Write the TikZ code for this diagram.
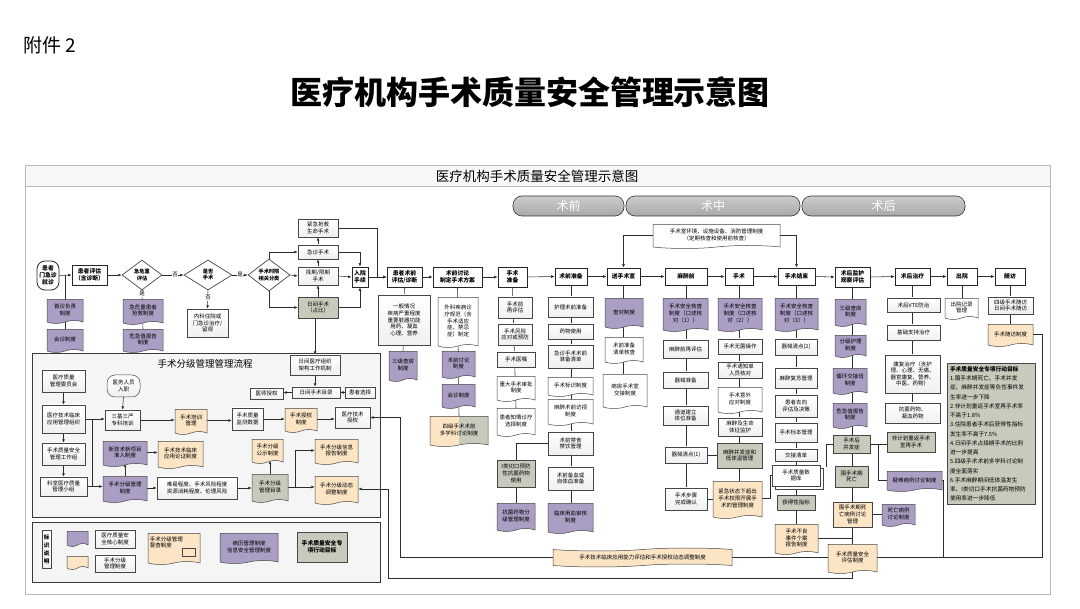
\documentclass[tikz,border=0pt]{standalone}
\usepackage{fontspec}
\setmainfont{Noto Sans CJK SC}
\usetikzlibrary{shapes.geometric,shapes.symbols,arrows.meta,calc,shadows}
\pgfdeclarelayer{back}\pgfdeclarelayer{lines}
\pgfsetlayers{back,lines,main}
\definecolor{lav}{RGB}{170,158,196}
\definecolor{cream}{RGB}{251,229,197}
\definecolor{ggreen}{RGB}{200,202,188}
\newcommand\fs{\fontsize{5.5}{6.6}\selectfont}
\newcommand\fsb{\fontsize{5.8}{6.9}\selectfont\bfseries}
\newcommand\fsd{\fontsize{5.2}{6.2}\selectfont\bfseries}
\newcommand\bx[7]{\node[#2,minimum width={(#5-#3)*1pt},minimum height={(#6-#4)*1pt}] (#1) at ({(#3+#5)/2},{(#4+#6)/2}) {#7};}
\tikzset{
 base/.style={draw=gray!55!black, line width=0.5pt, inner sep=0.5pt, align=center, font=\fs, text=black},
 wbox/.style={base, rectangle, top color=white, bottom color=gray!12},
 hbox/.style={base, rectangle, fill=white, font=\fsb, line width=0.8pt, draw=gray!30!black},
 gbox/.style={base, rectangle, fill=ggreen},
 obox/.style={base, rectangle, fill=cream},
 docw/.style={base, tape, tape bend top=none, tape bend height=3pt, fill=white},
 docp/.style={docw, fill=lav},
 doco/.style={docw, fill=cream},
 docg/.style={docw, fill=ggreen},
 dia/.style={base, diamond, fill=white, font=\fsd, inner sep=0pt, line width=0.7pt},
 lbl/.style={font=\fs, fill=white, inner sep=0.6pt},
 ln/.style={draw=gray!35!black, line width=0.55pt},
 arr/.style={ln, -{Latex[length=3.4pt,width=2.8pt]}},
 pill/.style={draw=gray!40!black, line width=0.6pt, rounded corners=9pt, top color=gray!40, bottom color=gray!68},
 frame/.style={draw=gray!45!black, line width=0.8pt, fill=gray!8},
}
\begin{document}
\begin{tikzpicture}[x=1pt,y=-1pt]
\useasboundingbox (0,0) rectangle (1080,609);

\node[anchor=west,font=\fontsize{19}{22}\selectfont] (fj) at (20,45) {附件 2};
\node[font=\fontsize{32}{36}\selectfont\bfseries] (ttl) at (530,92) {医疗机构手术质量安全管理示意图};

\begin{pgfonlayer}{back}
\draw[draw=gray!55, line width=0.8pt, fill=white] (25,165) rectangle (1050,594);
\draw[draw=gray!55, line width=0.8pt, fill=gray!6] (25,165) rectangle (1050,186);
\draw[frame] (32,353) rectangle (380,517);
\draw[frame] (32,522) rectangle (380,582);
\end{pgfonlayer}
\node[font=\fontsize{13.5}{15}\selectfont] (hdr) at (537,176) {医疗机构手术质量安全管理示意图};

% phase pills
\node[pill, minimum width=111pt, minimum height=20pt, text=white, font=\fontsize{12}{14}\selectfont] (ph1) at (568.5,206) {术前};
\node[pill, minimum width=174pt, minimum height=20pt, text=white, font=\fontsize{12}{14}\selectfont] (ph2) at (713,206) {术中};
\node[pill, minimum width=163pt, minimum height=20pt, text=white, font=\fontsize{12}{14}\selectfont] (ph3) at (883.5,206) {术后};

% ===== main row, left part
\bx{door}{hbox,rounded corners=8pt}{37}{261}{59}{290}{患者\\门急诊\\就诊}
\bx{assess}{hbox}{72}{265}{107}{285}{患者评估\\（含诊断）}
\node[dia, minimum width=40pt, minimum height=30pt] (d1) at (142,275) {急危重\\评估};
\node[dia, minimum width=48pt, minimum height=30pt] (d2) at (208,275) {是否\\手术};
\node[dia, minimum width=42pt, minimum height=32pt] (d3) at (269,275) {手术时限\\相关分类};
\bx{shouzhen}{docp}{47}{298}{83}{322}{首诊负责\\制度}
\bx{huizhen}{docp}{47}{328}{83}{351}{会诊制度}
\bx{jiwei}{docp}{123}{298}{163}{323}{急危重患者\\抢救制度}
\bx{weiji}{docp}{123}{328}{163}{351}{危急值报告\\制度}
\bx{neike}{wbox}{187}{309}{228}{337}{内科住院或\\门急诊治疗/\\留观}

\bx{jinji}{wbox}{298}{219}{338}{237}{紧急抢救\\生命手术}
\bx{jizhen}{wbox}{298}{245}{338}{259}{急诊手术}
\bx{zeqi}{wbox}{298}{267}{338}{285}{择期/限期\\手术}
\bx{rijian}{gbox}{298}{297}{338}{318}{日间手术\\（占比）}
\bx{ruyuan}{hbox}{352}{267}{368}{287}{入院\\手续}
\bx{pre}{hbox}{387}{267}{422}{287}{患者术前\\评估/诊断}
\bx{pretext}{wbox}{378}{295}{430}{345}{一般情况\\疾病严重程度\\重要脏器功能\\用药、凝血\\心理、营养}
\bx{sanji1}{docp}{389}{350}{417}{380}{三级查房\\制度}

\bx{taolun}{hbox}{433}{267}{482}{287}{术前讨论\\制定手术方案}
\bx{waike}{docw}{438}{296}{478}{346}{外科疾病诊\\疗规范（含\\手术适应\\症、禁忌\\症）制定}
\bx{taolunzd}{docp}{442}{350}{475}{377}{术前讨论\\制度}
\bx{huizhen2}{docp}{442}{383}{475}{407}{会诊制度}
\bx{siji}{doco,path picture={\fill[ggreen] (path picture bounding box.north) rectangle (path picture bounding box.south east);}}{430}{415}{488}{445}{四级手术术前\\多学科讨论制度}

\bx{zhunbei}{hbox}{498}{267}{527}{287}{手术\\准备}
\bx{zaipg}{wbox}{498}{297}{532}{318}{手术前\\再评估}
\bx{fengxian}{wbox}{498}{324}{532}{345}{手术风险\\应对或预防}
\bx{yizhu}{wbox}{497}{352}{535}{367}{手术医嘱}
\bx{zhongda}{docw}{497}{375}{535}{400}{重大手术审批\\制度}
\bx{zhiqing}{docw}{497}{407}{535}{435}{患者知情诊疗\\选择制度}
\bx{iclass}{gbox}{497}{460}{535}{487}{I类切口预防\\性抗菌药物\\使用}
\bx{kangjun}{docp}{497}{502}{535}{530}{抗菌药物分\\级管理制度}

\bx{shuqianzb}{hbox}{555}{268}{587}{285}{术前准备}
\bx{huli}{wbox}{548}{297}{593}{317}{护理术前准备}
\bx{yaowu}{wbox}{548}{324}{593}{339}{药物使用}
\bx{jzqd}{wbox}{548}{345}{593}{368}{急诊手术术前\\准备清单}
\bx{biaoshi}{docw}{548}{376}{593}{395}{手术标识制度}
\bx{fangshi}{docw}{548}{398}{593}{424}{麻醉术前访视\\制度}
\bx{jinshi}{wbox}{548}{432}{593}{455}{术前禁食\\禁饮管理}
\bx{beixue}{wbox}{548}{467}{593}{490}{术前备血或\\自体血准备}
\bx{yongxue}{docp}{548}{502}{593}{532}{临床用血审核\\制度}

\bx{song}{hbox}{607}{268}{640}{285}{送手术室}
\bx{chadui}{docp}{605}{297}{643}{327}{查对制度}
\bx{qdhc}{docw}{605}{336}{643}{362}{术前准备\\清单核查}
\bx{jiaojie}{docw}{603}{373}{647}{407}{病房手术室\\交接制度}

\bx{banner1}{docw}{653}{223}{780}{247}{手术室环境、设施设备、消防管理制度\\（定期核查和使用前核查）}

\bx{mazuiq}{hbox}{665}{268}{707}{285}{麻醉前}
\bx{hc1}{docp}{663}{297}{708}{330}{手术安全核查\\制度（口述核\\对（1））}
\bx{mzzpg}{wbox}{663}{340}{708}{358}{麻醉前再评估}
\bx{qxzb}{wbox}{663}{372}{708}{388}{器械准备}
\bx{tongdao}{wbox}{663}{406}{708}{425}{通道建立\\体位准备}
\bx{qxqd1}{wbox}{665}{447}{707}{463}{器械清点(1)}
\bx{buzhou}{wbox}{665}{488}{707}{510}{手术步骤\\完成确认}

\bx{shoushu}{hbox}{725}{268}{753}{285}{手术}
\bx{hc2}{docp}{718}{297}{762}{330}{手术安全核查\\制度（口述核\\对（2））}
\bx{wujun}{wbox}{718}{339}{762}{354}{手术无菌操作}
\bx{tongzhi}{wbox}{718}{362}{762}{378}{手术通知单\\人员核对}
\bx{yiwai}{docw}{718}{386}{762}{412}{手术意外\\应对制度}
\bx{jianhu}{wbox}{718}{418}{762}{436}{麻醉及生命\\体征监护}
\bx{bingfa}{gbox}{717}{443}{762}{468}{麻醉并发症和\\低体温管理}
\bx{jinjizt}{doco}{713}{480}{762}{517}{紧急状态下超出\\手术权限开展手\\术的管理制度}

\bx{jieshu}{hbox}{778}{268}{815}{285}{手术结束}
\bx{hc3}{docp}{775}{297}{818}{330}{手术安全核查\\制度（口述核\\对（3））}
\bx{qxqd2}{wbox}{775}{339}{817}{355}{器械清点(2)}
\bx{fusu}{wbox}{775}{368}{817}{388}{麻醉复苏管理}
\bx{quxiang}{wbox}{775}{395}{817}{417}{患者去向\\评估及决策}
\bx{biaoben}{wbox}{775}{423}{817}{442}{手术标本管理}
\bx{qingdan}{wbox}{775}{449}{817}{461}{交接清单}
\bx{shujuku}{base,rectangle,fill=white,copy shadow={shadow xshift=3pt,shadow yshift=-3pt}}{772}{465}{820}{486}{手术质量数\\据库}
\bx{huode}{gbox}{777}{495}{815}{510}{获得性指标}
\bx{buliang}{doco}{775}{523}{818}{553}{手术不良\\事件个案\\报告制度}

\bx{jianhu2}{hbox}{835}{267}{870}{287}{术后监护\\观察评估}
\bx{sanji2}{docp}{835}{298}{866}{325}{三级查房\\制度}
\bx{fenji}{docp}{835}{334}{866}{356}{分级护理\\制度}
\bx{xunhuan}{docp}{833}{367}{867}{393}{循环交接班\\制度}
\bx{weiji2}{docp}{833}{402}{867}{427}{危急值报告\\制度}
\bx{bingfz}{gbox}{833}{435}{870}{453}{手术后\\并发症}
\bx{siwang}{gbox}{835}{466}{868}{487}{围手术期\\死亡}
\bx{swtl}{obox}{833}{502}{872}{527}{围手术期死\\亡病例讨论\\管理}
\bx{swzd}{docp}{882}{503}{915}{525}{死亡病例\\讨论制度}
\bx{pinggu}{doco}{828}{543}{877}{572}{手术质量安全\\评估制度}
\bx{feiji}{gbox}{887}{432}{935}{452}{非计划重返手术\\室再手术}
\bx{yinan}{docp}{887}{470}{942}{490}{疑难病例讨论制度}

\bx{zhiliao}{hbox}{895}{268}{930}{285}{术后治疗}
\bx{vte}{wbox}{887}{298}{940}{312}{术后VTE防治}
\bx{jichu}{wbox}{887}{325}{940}{340}{基础支持治疗}
\bx{kangfu}{wbox}{885}{355}{940}{393}{康复治疗（含护\\理、心理、无痛、\\器官康复、营养、\\中医、药物）}
\bx{kjyw}{wbox}{885}{403}{940}{423}{抗菌药物、\\凝血药物}
\bx{chuyuan}{hbox}{947}{268}{977}{285}{出院}
\bx{cyjl}{docw}{945}{297}{978}{318}{出院记录\\管理}
\bx{suifang}{hbox}{995}{268}{1025}{285}{随访}
\bx{sfxm}{wbox}{988}{297}{1033}{314}{四级手术随访\\日间手术随访}
\bx{sfzd}{doco}{988}{323}{1033}{345}{手术随访制度}

\bx{goal}{gbox,align=left,text width=82pt,inner sep=3pt,font=\fontsize{5.7}{9.25}\selectfont,line width=0.7pt}{947}{365}{1035}{503}{{\bfseries 手术质量安全专项行动目标}\\1.围手术期死亡、手术并发\\症、麻醉并发症等负性事件发\\生率进一步下降\\2.非计划重返手术室再手术率\\不高于1.8\%\\3.住院患者手术后获得性指标\\发生率不高于7.5\%\\4.日间手术占择期手术的比例\\进一步提高\\5.四级手术术前多学科讨论制\\度全面落实\\6.手术麻醉期间低体温发生\\率、I类切口手术抗菌药物预防\\使用率进一步降低}

\node[base,tape,fill=cream,tape bend height=3pt,minimum width=179pt,minimum height=19pt] (banner2) at (642.5,557.5) {手术技术临床应用能力评估和手术授权动态调整制度};

% ===== grading sub-box
\node[font=\fontsize{9.5}{11}\selectfont] (subttl) at (205,364) {手术分级管理管理流程};
\bx{wyh}{wbox}{42}{370}{85}{392}{医疗质量\\管理委员会}
\bx{zuzhi}{wbox}{42}{405}{85}{433}{医疗技术临床\\应用管理组织}
\bx{gzz}{wbox}{42}{443}{85}{465}{手术质量安全\\管理工作组}
\bx{ksxz}{wbox}{40}{477}{87}{496}{科室医疗质量\\管理小组}
\bx{ruzhi}{wbox,rounded corners=8pt}{107}{375}{140}{397}{医务人员\\入职}
\bx{sanjisy}{wbox}{105}{410}{140}{430}{三基三严\\专科培训}
\bx{peixun}{doco}{175}{408}{207}{433}{手术培训\\管理}
\bx{jiance}{wbox}{232}{408}{263}{430}{手术质量\\监测数据}
\bx{shouquanzd}{doco}{285}{407}{317}{431}{手术授权\\制度}
\bx{yljssq}{wbox}{335}{407}{370}{428}{医疗技术\\授权}
\bx{xinjishu}{docp}{103}{440}{147}{465}{新技术新项目\\准入制度}
\bx{lunzheng}{doco}{158}{440}{203}{467}{手术技术临床\\应用论证制度}
\bx{gongshi}{doco}{252}{438}{283}{462}{手术分级\\公示制度}
\bx{xinxi}{doco}{315}{438}{358}{463}{手术分级信息\\报告制度}
\bx{fjzd}{docp}{103}{475}{147}{501}{手术分级管理\\制度}
\bx{nanyi}{wbox}{157}{477}{237}{499}{难易程度、手术风险程度\\资源消耗程度、伦理风险}
\bx{mulu}{docg}{252}{473}{288}{501}{手术分级\\管理目录}
\bx{dongtai}{doco}{315}{475}{358}{503}{手术分级动态\\调整制度}
\bx{yishi}{wbox}{250}{388}{283}{399}{医师授权}
\bx{rjml}{wbox}{292}{387}{340}{398}{日间手术目录}
\bx{huanzhe}{wbox}{345}{387}{375}{398}{患者选择}
\bx{rjzz}{wbox}{290}{355}{340}{375}{日间医疗组织\\架构工作机制}

% ===== legend
\bx{bsm}{wbox,font=\fontsize{5.5}{8}\selectfont\bfseries,line width=0.8pt}{42}{530}{51}{568}{标\\识\\说\\明}
\bx{lg1}{docp}{67}{530}{88}{545}{}
\bx{lg1t}{wbox}{95}{530}{135}{548}{医疗质量安\\全核心制度}
\bx{lg2}{doco}{67}{555}{88}{568}{}
\bx{lg2t}{wbox}{95}{555}{135}{572}{手术分级\\管理制度}
\bx{lg3}{doco}{148}{532}{200}{563}{}
\node[anchor=north west,font=\fs,align=left,inner sep=0pt] (lg3t) at ($(lg3.north west)+(2,3)$) {手术分级管理\\督查制度};
\draw[line width=0.5pt, draw=gray!55!black, fill=cream] ($(lg3.south east)+(-18,-13)$) rectangle ($(lg3.south east)+(-5,-5)$);
\bx{lg4}{docp}{220}{532}{278}{562}{病历管理制度\\信息安全管理制度}
\bx{lg5}{gbox,font=\fsb,line width=0.8pt}{297}{532}{347}{562}{手术质量安全专\\项行动目标}

% labels yes/no
\node[lbl] (n1) at (175,275) {否};
\node[lbl] (y1) at (240,275) {是};
\node[lbl] (y2) at (142,294) {是};
\node[lbl] (n2) at (208,298) {否};

% ===== connectors
\begin{pgfonlayer}{lines}
\draw[arr] (door.east) -- (assess.west);
\coordinate (j1) at ($(door.east)!0.5!(assess.west)$);
\draw[ln] (j1) -- (j1 |- huizhen.north);
\draw[arr] (assess.east) -- (d1.west);
\draw[arr] (d1.east) -- (d2.west);
\draw[arr] (d2.east) -- (d3.west);
\draw[ln] (d1.south) -- (weiji.north);
\draw[arr] (d2.south) -- (neike.north);
\draw[arr] (d3.east) -- (zeqi.west);
\draw[arr] (d3.north) |- (jizhen.west);
\draw[arr] (d3.south) |- (rijian.west);
\draw[arr] (jizhen.north) -- (jinji.south);
\draw[arr] (zeqi.north) -- (jizhen.south);
\draw[arr] (rijian.north) -- (zeqi.south);
\draw[arr] (zeqi.east) -- (ruyuan.west);
\draw[arr] (jizhen.east) -| (ruyuan.north);
\draw[arr] (rijian.east) -| (ruyuan.south);
\coordinate (c1) at ($(pre.west)+(-9,0)$);
\draw[arr] (jinji.east) -| (c1) -- (pre.west);
\draw[arr] (ruyuan.east) -- (pre.west);
\draw[arr] (pre.east) -- (taolun.west);
\draw[arr] (taolun.east) -- (zhunbei.west);
\draw[arr] (zhunbei.east) -- (shuqianzb.west);
\draw[arr] (shuqianzb.east) -- (song.west);
\draw[arr] (song.east) -- (mazuiq.west);
\draw[arr] (mazuiq.east) -- (shoushu.west);
\draw[arr] (shoushu.east) -- (jieshu.west);
\draw[arr] (jieshu.east) -- (jianhu2.west);
\draw[arr] (jianhu2.east) -- (zhiliao.west);
\draw[arr] (zhiliao.east) -- (chuyuan.west);
\draw[arr] (chuyuan.east) -- (suifang.west);
\draw[arr] (rijian.south -| rjzz.north) -- (rjzz.north);

\draw[ln] (pre.south) -- (sanji1.north);
\draw[ln] (taolun.south) -- (siji.north);
\draw[ln] (zhunbei.south) -- (zhiqing.north);
\draw[ln] (jinshi.west) -| (iclass.north);
\draw[ln] (iclass.south) -- (kangjun.north);
\draw[ln] (shuqianzb.south) -- (shuqianzb.south |- yongxue.north);
\draw[ln] (song.south) -- (song.south |- jiaojie.north);
\draw[arr] (banner1.west) -| (song.north);
\draw[arr] (banner1.east) -| (jieshu.north);
\draw[ln] (mazuiq.south) -- (mazuiq.south |- buzhou.north);
\draw[ln] (shoushu.south) -- (shoushu.south |- jinjizt.north);
\draw[ln] (qxqd1.east) -- (qxqd1.east -| bingfa.west);
\draw[ln] (buzhou.east) -- (buzhou.east -| jinjizt.west);
\draw[ln] (jinjizt.east) -- ++(8,0) |- (shujuku.west);
\draw[ln] (jieshu.south) -- (jieshu.south |- buliang.north);
\draw[ln] (jianhu2.south) -- (jianhu2.south |- pinggu.north);
\draw[ln] (swtl.east) -- (swtl.east -| swzd.west);
\draw[ln] (bingfz.east) -- (bingfz.east -| feiji.west);
\draw[ln] (bingfz.east) -- ++(8,0) |- (yinan.west);
\coordinate (c2) at ($(shujuku.north east)+(6,2)$);
\draw[ln] (bingfz.west) -| (c2);
\draw[ln] (buliang.east) -- (buliang.east -| pinggu.north);
\draw[ln] (yinan.east) -- ++(1,0) |- (pinggu.east);
\coordinate (c4) at ($(sfzd.east)+(9,0)$);
\draw[ln] (pinggu.east) -| (c4) -- (sfzd.east);
\draw[ln] (banner2.east) -- (pinggu.west);
\coordinate (c5) at ($(yljssq.east)+(30,0)$);
\draw[arr] (banner2.west) -| (c5) -- (yljssq.east);
\coordinate (c6) at ($(dongtai.east)+(30,0)$);
\draw[arr] (pinggu.south) -- ++(0,8) -| (c6) -- (dongtai.east);
\draw[ln] (zhiliao.south) -- (zhiliao.south |- kjyw.north);
\draw[ln] (chuyuan.south) -- (chuyuan.south |- cyjl.north);
\draw[ln] (suifang.south) -- (suifang.south |- sfzd.north);

% grading box
\draw[arr] (wyh.south) -- (zuzhi.north);
\draw[arr] (zuzhi.south) -- (gzz.north);
\draw[arr] (gzz.south) -- (gzz.south |- ksxz.north);
\draw[arr] (zuzhi.east) -- (zuzhi.east -| sanjisy.west);
\draw[arr] (ruzhi.south) -- (sanjisy.north);
\draw[arr] (sanjisy.east) -- (sanjisy.east -| peixun.west);
\draw[arr] (peixun.east) -- (peixun.east -| jiance.west);
\draw[arr] (jiance.east) -- (jiance.east -| shouquanzd.west);
\draw[arr] (shouquanzd.east) -- (shouquanzd.east -| yljssq.west);
\coordinate (v1) at ($(zuzhi.east)!0.35!(sanjisy.west)$);
\draw[ln] (v1) -- (v1 |- ksxz.east);
\draw[arr] (ksxz.east) -- (ksxz.east -| fjzd.west);
\draw[arr] (fjzd.north) -- (fjzd.north |- xinjishu.south);
\draw[arr] (xinjishu.east) -- (xinjishu.east -| lunzheng.west);
\draw[arr] (fjzd.east) -- (fjzd.east -| nanyi.west);
\draw[arr] (nanyi.east) -- (nanyi.east -| mulu.west);
\draw[arr] (mulu.north) -- (mulu.north |- gongshi.south);
\draw[arr] (mulu.east) -- (mulu.east -| dongtai.west);
\coordinate (v2) at ($(mulu.east)!0.25!(dongtai.west)$);
\draw[arr] (v2) |- (xinxi.west);
\draw[arr] (rjzz.south) -- (rjzz.south |- rjml.north);
\draw[arr] (rjml.west) -- (rjml.west -| yishi.east);
\draw[arr] (huanzhe.west) -- (huanzhe.west -| rjml.east);
\end{pgfonlayer}
\end{tikzpicture}
\end{document}
